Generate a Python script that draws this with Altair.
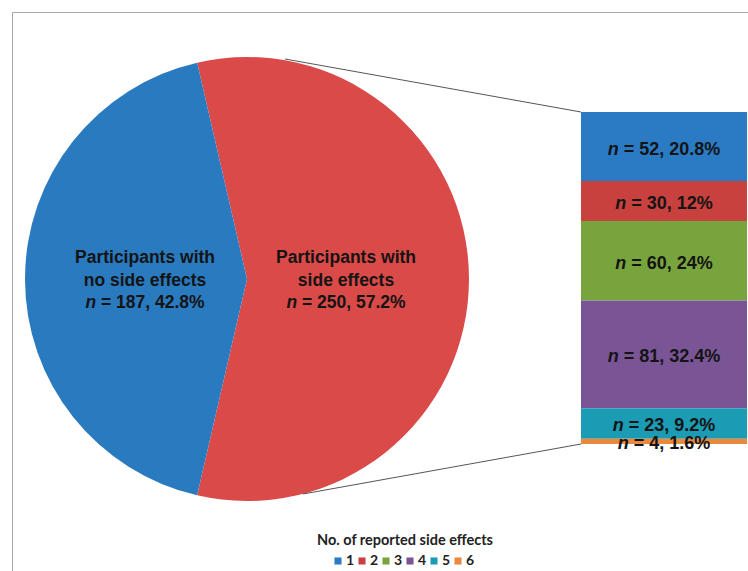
import math
import altair as alt
import pandas as pd

# ---------------- data ----------------
pie_keys = ["with", "without"]
pie_counts = [250, 187]
pie_pcts = ["57.2%", "42.8%"]
pie_line1 = ["Participants with", "Participants with"]
pie_line2 = ["side effects", "no side effects"]

bar_cats = ["1", "2", "3", "4", "5", "6"]
bar_counts = [52, 30, 60, 81, 23, 4]
bar_pcts = ["20.8%", "12%", "24%", "32.4%", "9.2%", "1.6%"]

legend_title = ["No. of reported side effects"]

# ---------------- styles / layout ----------------
pie_colors = ["#DA4A48", "#2A7ABF"]
bar_colors = ["#2A7BC4", "#C8413E", "#78A43E", "#7A5596", "#1C9CB4", "#E8893E"]
W, H = 748, 571
CX, CY, R = 247, 279, 222
BAR_X0, BAR_X1, BAR_Y0, BAR_Y1 = 581, 747, 112, 444
BAR_CX = (BAR_X0 + BAR_X1) / 2
PIE_LABEL_X = [346, 145]
PIE_LABEL_Y = [258, 281, 303]
BAR_FS = 18
PIE_FS = 17.5
FONT = "Liberation Sans"
TXT = "#141414"

# Arial/Liberation Sans Bold advance widths (per 1000 em)
AW = {" ": 278, "=": 584, ",": 278, ".": 278, "%": 889, "n": 611}
def tw(s, fs):
    return sum(AW.get(c, 556) for c in s) * fs / 1000.0

# ---------------- tables ----------------
pie_df = pd.DataFrame({
    "key": pie_keys, "n": pie_counts, "pct": pie_pcts,
    "line1": pie_line1, "line2": pie_line2,
})
pie_df["k"] = range(len(pie_df))
pie_df["rest"] = [f"= {n}, {p}" for n, p in zip(pie_counts, pie_pcts)]
pie_df["nw"] = tw("n ", PIE_FS)
pie_df["w"] = [tw("n " + r, PIE_FS) for r in pie_df["rest"]]
pie_df["n_lbl"] = "n"

bar_df = pd.DataFrame({"cat": bar_cats, "n": bar_counts, "pct": bar_pcts})
bar_df["k"] = range(len(bar_df))
bar_df["rest"] = [f"= {n}, {p}" for n, p in zip(bar_counts, bar_pcts)]
bar_df["nw"] = tw("n ", BAR_FS)
bar_df["w"] = [tw("n " + r, BAR_FS) for r in bar_df["rest"]]
bar_df["n_lbl"] = "n"

title_df = pd.DataFrame({"t": legend_title})

total_pie = sum(pie_counts)
blue_span = 2 * math.pi * pie_counts[1] / total_pie
red_span = 2 * math.pi * pie_counts[0] / total_pie
t0 = 1.5 * math.pi - blue_span / 2 - red_span  # blue slice centred on the left

# ---------------- layers ----------------
frame = alt.Chart(title_df).mark_rect(
    fillOpacity=0, stroke="#a8a8a8", strokeWidth=1
).encode(x=alt.value(12.5), y=alt.value(12.5), x2=alt.value(900), y2=alt.value(900))

pie = alt.Chart(pie_df).mark_arc(radius=R, stroke=None).encode(
    theta=alt.Theta("n:Q", stack=True,
                    scale=alt.Scale(range=[t0, t0 + 2 * math.pi])),
    color=alt.Color("key:N", scale=alt.Scale(domain=pie_keys, range=pie_colors),
                    legend=None),
    order=alt.Order("k:Q"),
    x=alt.value(CX), y=alt.value(CY),
)

connectors = alt.layer(
    alt.Chart(title_df).mark_rule(color="#555555", strokeWidth=1).encode(
        x=alt.value(285), y=alt.value(59), x2=alt.value(BAR_X0), y2=alt.value(BAR_Y0)),
    alt.Chart(title_df).mark_rule(color="#555555", strokeWidth=1).encode(
        x=alt.value(303), y=alt.value(494), x2=alt.value(BAR_X0), y2=alt.value(BAR_Y1)),
)

yscale = alt.Scale(domain=[0, sum(bar_counts)], range=[BAR_Y0, BAR_Y1], zero=True, nice=False)

bar_base = alt.Chart(bar_df).transform_window(
    cum="sum(n)", sort=[alt.SortField("k")], frame=[None, 0]
).transform_calculate(
    y0="datum.cum - datum.n",
    mid="datum.cum - datum.n / 2",
    xl=f"{BAR_CX} - datum.w / 2",
    xr=f"{BAR_CX} - datum.w / 2 + datum.nw",
)

bars = bar_base.mark_rect().encode(
    x=alt.value(BAR_X0), x2=alt.value(BAR_X1),
    y=alt.Y("y0:Q", scale=yscale, axis=None),
    y2="cum:Q",
    color=alt.Color(
        "cat:N",
        scale=alt.Scale(domain=bar_cats, range=bar_colors),
        legend=alt.Legend(
            title=None, orient="none", legendX=331, legendY=554,
            direction="horizontal", symbolType="square", symbolSize=50,
            symbolStrokeWidth=0, labelFont="Lato", labelFontWeight="bold",
            labelFontSize=14, labelColor="#222222", labelOffset=1,
            columnPadding=-4,
        ),
    ),
)

bar_n = bar_base.mark_text(
    align="left", baseline="middle", font=FONT, fontSize=BAR_FS,
    fontWeight="bold", fontStyle="italic", color=TXT, dy=3,
).encode(x=alt.X("xl:Q", scale=None), y=alt.Y("mid:Q", scale=yscale, axis=None),
         text="n_lbl:N")

bar_rest = bar_base.mark_text(
    align="left", baseline="middle", font=FONT, fontSize=BAR_FS,
    fontWeight="bold", color=TXT, dy=3,
).encode(x=alt.X("xr:Q", scale=None), y=alt.Y("mid:Q", scale=yscale, axis=None),
         text="rest:N")

pie_texts = []
for i in range(len(pie_keys)):
    base = alt.Chart(pie_df).transform_filter(f"datum.k == {i}")
    cx = PIE_LABEL_X[i]
    common = dict(baseline="middle", font=FONT, fontSize=PIE_FS,
                  fontWeight="bold", color=TXT)
    pie_texts.append(base.mark_text(align="center", **common).encode(
        x=alt.value(cx), y=alt.value(PIE_LABEL_Y[0]), text="line1:N"))
    pie_texts.append(base.mark_text(align="center", **common).encode(
        x=alt.value(cx), y=alt.value(PIE_LABEL_Y[1]), text="line2:N"))
    wfull = pie_df["w"][i]
    xl = cx - wfull / 2
    pie_texts.append(base.mark_text(align="left", fontStyle="italic", **common).encode(
        x=alt.value(xl), y=alt.value(PIE_LABEL_Y[2]), text="n_lbl:N"))
    pie_texts.append(base.mark_text(align="left", **common).encode(
        x=alt.value(xl + pie_df["nw"][i]), y=alt.value(PIE_LABEL_Y[2]), text="rest:N"))

title = alt.Chart(title_df).mark_text(
    align="center", baseline="middle", font="Lato", fontSize=14.5,
    fontWeight="bold", color="#222222",
).encode(x=alt.value(405), y=alt.value(541), text="t:N")

chart = alt.layer(
    frame, pie, connectors, bars, bar_n, bar_rest, *pie_texts, title
).resolve_scale(color="independent").properties(
    width=W, height=H, autosize="none", padding=0,
).configure_view(stroke=None)

chart.save("out.html", embed_options={"renderer": "svg", "actions": False})
